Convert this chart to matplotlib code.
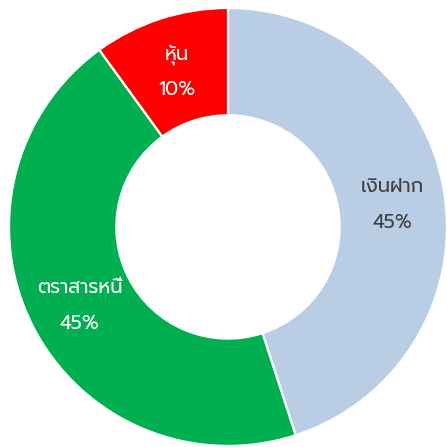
import matplotlib
matplotlib.use('Agg')
import matplotlib.pyplot as plt
import numpy as np

labels = ['เงินฝาก', 'ตราสารหนี้', 'หุ้น']
values = [45, 45, 10]
colors = ['#B9CDE5', '#00B050', '#FF0000']
text_colors = ['#404040', 'white', 'white']

FONT = ['Prompt', 'Noto Sans Thai', 'DejaVu Sans']

fig = plt.figure(figsize=(4.47, 4.47), dpi=100)
ax = fig.add_axes([0, 0, 1, 1])
wedges, _ = ax.pie(values, colors=colors, startangle=90, counterclock=False,
                   radius=1.0, wedgeprops=dict(width=0.49, edgecolor='white', linewidth=1.6))

# etiquetas en el centro del anillo
for w, lab, val, tc in zip(wedges, labels, values, text_colors):
    ang = np.deg2rad((w.theta1 + w.theta2) / 2)
    x, y = 0.76 * np.cos(ang), 0.76 * np.sin(ang) - 0.017
    ax.text(x, y + 0.082, lab, ha='center', va='center', fontsize=14,
            color=tc, family=FONT, fontweight='normal')
    ax.text(x, y - 0.082, f'{val}%', ha='center', va='center', fontsize=14,
            color=tc, family=FONT, fontweight='normal')

ax.set_xlim(-1.041, 1.0)
ax.set_ylim(-1.005, 1.0365)
ax.axis('off')
fig.savefig('out.png', dpi=100)
